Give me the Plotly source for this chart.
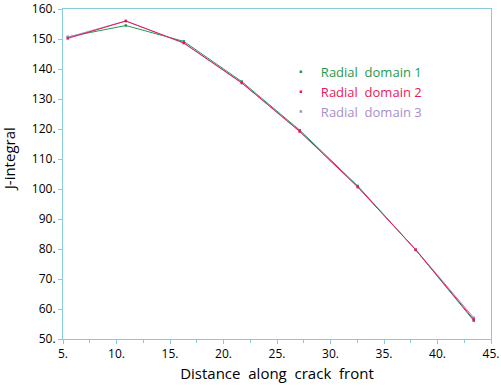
import plotly.graph_objects as go

distance = [5.45, 10.87, 16.29, 21.71, 27.13, 32.55, 37.97, 43.39]
domain1 = [150.7, 154.5, 149.2, 135.8, 119.6, 101.0, 79.7, 56.1]
domain2 = [150.2, 156.0, 148.7, 135.4, 119.2, 100.7, 79.7, 56.5]
domain3 = [150.6, 156.0, 148.6, 135.3, 119.1, 100.6, 79.8, 57.1]

names = ["Radial  domain 1", "Radial  domain 2", "Radial  domain 3"]
colors = ["#1e9a50", "#e8175d", "#a58fcc"]
series = [domain1, domain2, domain3]

x_ticks = [5, 10, 15, 20, 25, 30, 35, 40, 45]
x_labels = ["5.", "10.", "15.", "20.", "25.", "30.", "35.", "40.", "45."]
y_ticks = [50, 60, 70, 80, 90, 100, 110, 120, 130, 140, 150, 160]
y_labels = ["50.", "60.", "70.", "80.", "90.", "100.", "110.", "120.", "130.", "140.", "150.", "160."]

fig = go.Figure()
for i in [0, 2, 1]:
    fig.add_trace(go.Scatter(
        x=distance, y=series[i], mode="lines+markers",
        line=dict(color=colors[i], width=1),
        marker=dict(color=colors[i], size=2.5, symbol="square"),
        showlegend=False, hoverinfo="skip"))
for i in range(3):
    fig.add_trace(go.Scatter(
        x=[None], y=[None], mode="markers",
        marker=dict(color=colors[i], size=2.5, symbol="square"),
        name=f"<span style='color:{colors[i]}'>{names[i]}</span>"))

axis_color = "#86cbd9"
fig.update_layout(
    width=501, height=391,
    margin=dict(l=63, r=10, t=9, b=52, autoexpand=False),
    paper_bgcolor="white", plot_bgcolor="white",
    font=dict(family="Open Sans", size=12, color="black"),
    legend=dict(x=0.509, y=0.855, xanchor="left", yanchor="top",
                font=dict(size=13), bgcolor="rgba(0,0,0,0)",
                itemwidth=30, tracegroupgap=0),
    xaxis=dict(range=[5, 45], tickvals=x_ticks, ticktext=x_labels,
               showline=True, linecolor=axis_color, linewidth=1, mirror=True,
               ticks="outside", ticklen=4, tickcolor=axis_color,
               minor=dict(dtick=2.5, ticks="outside", ticklen=3, tickcolor=axis_color),
               showgrid=False, zeroline=False, automargin=False,
               title=dict(text="Distance  along  crack  front", font=dict(size=15), standoff=7)),
    yaxis=dict(range=[50, 160], tickvals=y_ticks, ticktext=y_labels,
               showline=True, linecolor=axis_color, linewidth=1, mirror=True,
               ticks="outside", ticklen=4, tickcolor=axis_color,
               showgrid=False, zeroline=False, automargin=False),
    annotations=[dict(text="J-integral", textangle=-90, xref="paper", yref="paper",
                      x=-0.126, y=0.545, xanchor="center", yanchor="middle",
                      showarrow=False, font=dict(size=15))],
    hovermode=False,
)
fig.write_html("out.html", config={"displayModeBar": False},
               post_script="document.body.style.margin='0';document.body.style.overflow='hidden';")
